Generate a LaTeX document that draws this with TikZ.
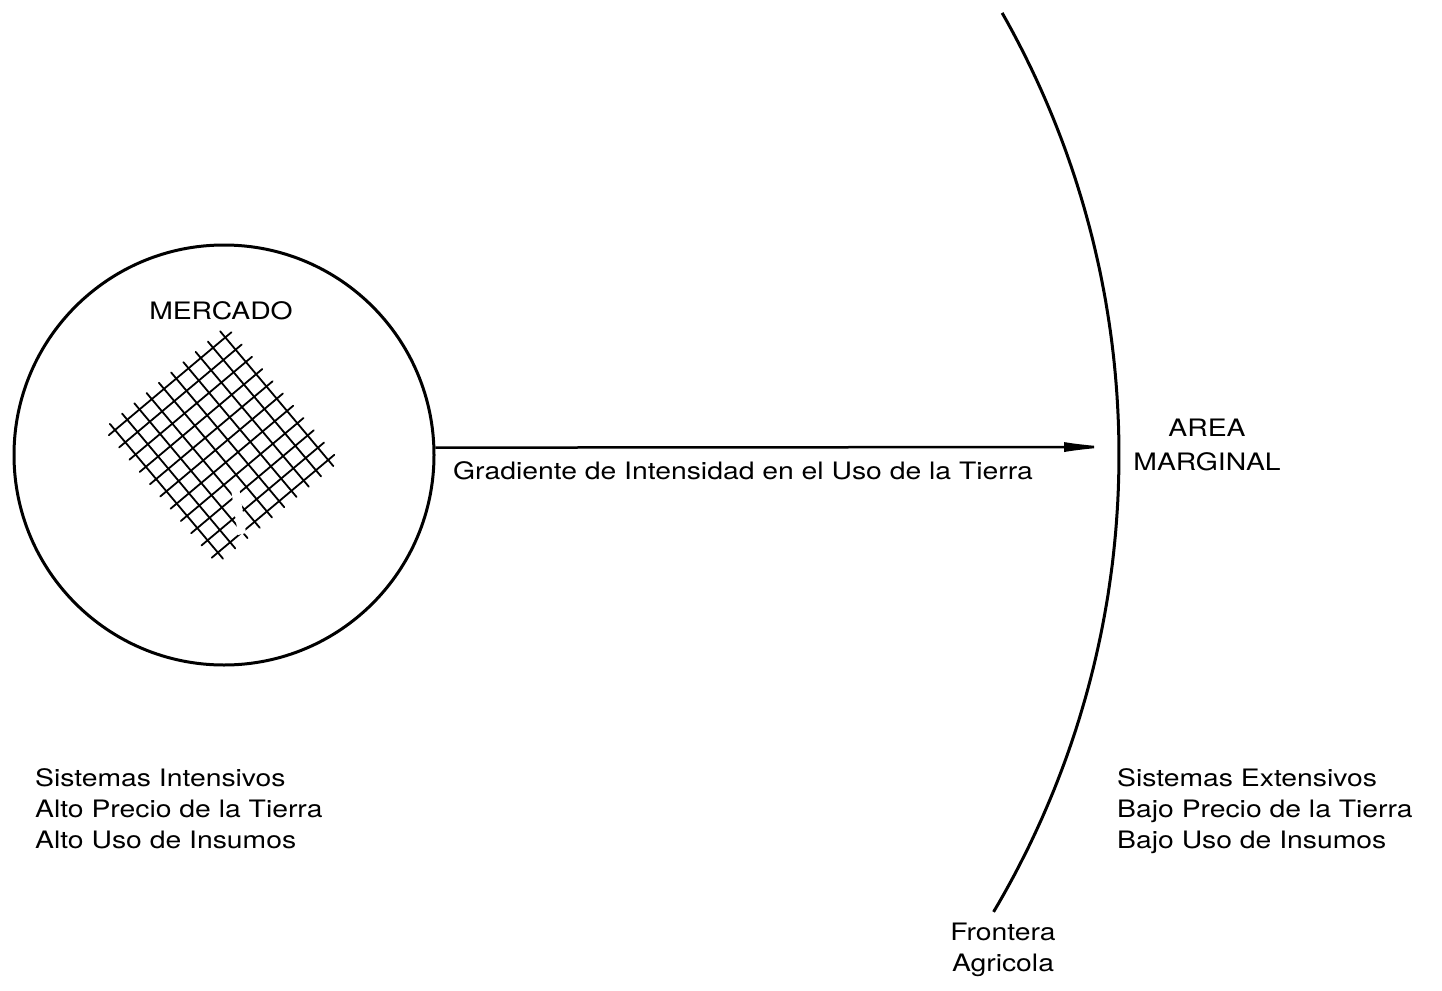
\documentclass[tikz,border=0pt]{standalone}
\usepackage{fontspec}
\setmainfont{TeX Gyre Heros}[FakeStretch=1.18]
\usetikzlibrary{arrows.meta}
\begin{document}
\begin{tikzpicture}[x=1pt,y=-1pt,
  lbl/.style={font=\fontsize{24}{31}\selectfont, inner sep=0pt},
  ring/.style={line width=3pt},
  hatch/.style={line width=1.8pt, line cap=round}]
\useasboundingbox (0,0) rectangle (1442,990);
% market circle
\node[circle, draw, ring, minimum size=420pt, inner sep=0pt] (mercado) at (224,455) {};
% agricultural frontier (arc concentric with the market)
\draw[ring] plot[domain=-29.6:30.7, samples=90] ({224+895*cos(\x)},{455+895*sin(\x)});
\coordinate (frontier) at (1112,447);
\draw[line width=2.5pt, -{Latex[length=48pt,width=10pt]}] (mercado.2) -- (frontier);
% hatched grid
\begin{scope}[shift={(115,430)}, x={(0.766pt,0.643pt)}, y={(0.643pt,-0.766pt)}]
  \foreach \k in {0,...,10} \draw[hatch] (-8,\k*16) -- (152,\k*16);
  \foreach \j in {0,...,9} \draw[hatch] (\j*16,-8) -- (\j*16,168);
\end{scope}
\fill[white] (230,482) -- (238,480) -- (246,533) -- (238,535) -- cycle;
% labels
\node[lbl] (mkt) at (221,311) {MERCADO};
\node[lbl, anchor=west] (grad) at (453,471) {Gradiente de Intensidad en el Uso de la Tierra};
\node[lbl, align=center, font=\fontsize{24}{34}\selectfont] (area) at (1207,445) {AREA\\MARGINAL};
\node[lbl, anchor=north west, align=left] (intens) at (35,768) {Sistemas Intensivos\\Alto Precio de la Tierra\\Alto Uso de Insumos};
\node[lbl, anchor=north west, align=left] (extens) at (1117,768) {Sistemas Extensivos\\Bajo Precio de la Tierra\\Bajo Uso de Insumos};
\node[lbl, align=center] (front) at (1003,950) {Frontera\\Agricola};
\end{tikzpicture}
\end{document}
